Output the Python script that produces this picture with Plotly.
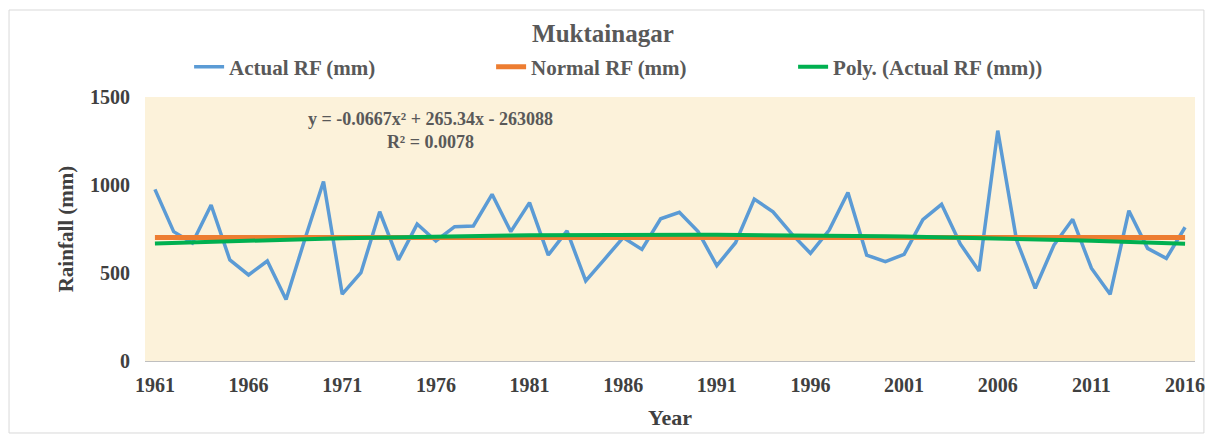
import numpy as np
import plotly.graph_objects as go

years = list(range(1961, 2017))
actual_rf = [975, 735, 670, 886, 574, 489, 568, 350, 690, 1020,
             380, 502, 848, 574, 778, 682, 763, 767, 947, 735,
             900, 602, 739, 455, 578, 701, 634, 808, 845, 735,
             542, 672, 920, 848, 722, 612, 744, 957, 602, 564,
             606, 803, 890, 665, 511, 1309, 688, 413, 659, 805,
             527, 379, 854, 640, 583, 760]
normal_rf_value = 702
normal_rf = [normal_rf_value] * len(years)
tick_years = list(range(1961, 2017, 5))

# polynomial (order 2) trendline from the actual series
coef = np.polyfit(np.array(years, dtype=float) - 1988.5, np.array(actual_rf, dtype=float), 2)
trend = np.polyval(coef, np.array(years, dtype=float) - 1988.5)

FONT = "Times New Roman, Liberation Serif, serif"
GRAY = "#595959"
DARK = "#404040"

fig = go.Figure()
fig.add_trace(go.Scatter(x=years, y=actual_rf, mode="lines", name="<b>Actual RF (mm)</b>",
                         line=dict(color="#5B9BD5", width=3.5)))
fig.add_trace(go.Scatter(x=years, y=normal_rf, mode="lines", name="<b>Normal RF (mm)</b>",
                         line=dict(color="#ED7D31", width=5)))
fig.add_trace(go.Scatter(x=years, y=trend, mode="lines", name="<b>Poly. (Actual RF (mm))</b>",
                         line=dict(color="#00B050", width=4)))

fig.add_annotation(x=1975.7, y=1310, xref="x", yref="y", showarrow=False,
                   text="<b>y = -0.0667x² + 265.34x - 263088<br>R² = 0.0078</b>",
                   font=dict(family=FONT, size=18, color=GRAY), align="center")

# chart border
fig.add_shape(type="rect", xref="paper", yref="paper",
              x0=-0.1295, x1=1.0085, y0=-0.2727, y1=1.3295,
              line=dict(color="#D9D9D9", width=1), layer="below")

fig.update_layout(
    width=1197, height=426,
    margin=dict(l=137, r=10, t=89, b=73, autoexpand=False),
    paper_bgcolor="white",
    plot_bgcolor="#FCF2DA",
    title=dict(text="<b>Muktainagar</b>", x=0.497, xanchor="center", y=0.941, yanchor="middle",
               font=dict(family=FONT, size=25, color=GRAY)),
    legend=dict(orientation="h", x=0.042, xanchor="left", y=1.113, yanchor="middle",
                font=dict(family=FONT, size=21, color=GRAY), entrywidth=257,
                bgcolor="rgba(0,0,0,0)"),
    font=dict(family=FONT, color=DARK),
    xaxis=dict(range=[1960.47, 2016.53], tickmode="array", tickvals=tick_years,
               ticktext=[f"<b>{y}</b>" for y in tick_years], showgrid=False,
               zeroline=False, showline=True, linecolor="#BFBFBF", linewidth=1,
               automargin=False,
               ticks="", ticklabelstandoff=6, ticklabeloverflow="allow",
               tickfont=dict(family=FONT, size=20, color=DARK),
               title=dict(text="<b>Year</b>", font=dict(family=FONT, size=22, color=DARK), standoff=14)),
    yaxis=dict(range=[0, 1500], tickmode="array", tickvals=[0, 500, 1000, 1500],
               ticktext=["<b>0</b>", "<b>500</b>", "<b>1000</b>", "<b>1500</b>"],
               showgrid=False, zeroline=False, showline=False, ticks="",
               automargin=False,
               ticklabelstandoff=14, tickfont=dict(family=FONT, size=20, color=DARK),
               title=dict(text="<b>Rainfall (mm)</b>", font=dict(family=FONT, size=21, color=DARK), standoff=10)),
)

fig.write_html("out.html")
